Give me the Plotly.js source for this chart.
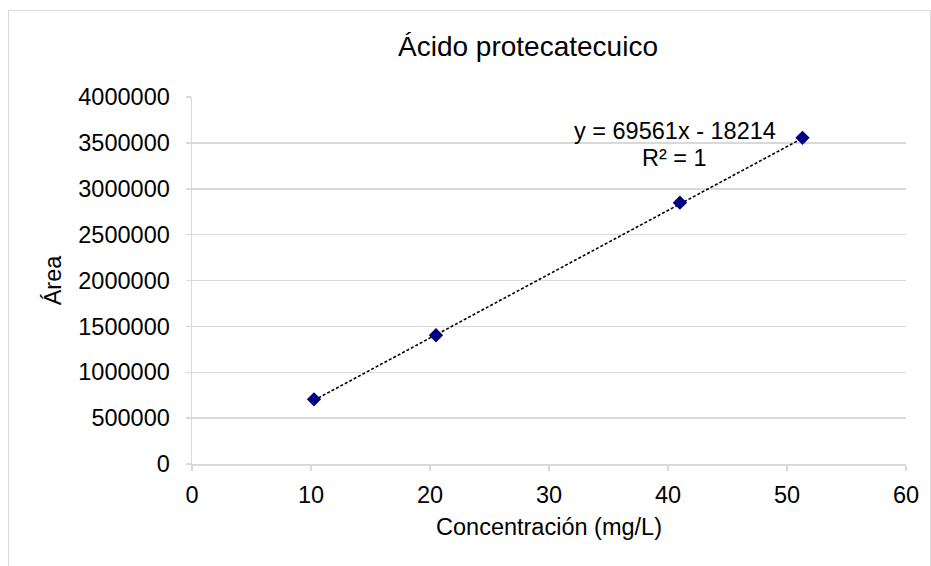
<!DOCTYPE html>
<html>
<head>
<meta charset="utf-8">
<script src="https://cdn.plot.ly/plotly-3.0.1.min.js"></script>
<style>
  html, body { margin: 0; padding: 0; background: #fff; }
  #chart { position: absolute; left: 0; top: 0; width: 931px; height: 566px; }
  #frame { position: absolute; left: 8px; top: 10px; width: 921px; height: 570px;
           border: 1px solid #d9d9d9; pointer-events: none; }
</style>
</head>
<body>
<div id="chart"></div>
<div id="frame"></div>
<script>
// Data
const concentration = [10.25, 20.5, 41.0, 51.3];          // mg/L
const area = [705000, 1403000, 2848000, 3555000];
// Trendline as reported on the chart: y = 69561x - 18214, R² = 1
const slope = 69561;
const intercept = -18214;
const equationText = "y = 69561x - 18214";
const r2Text = "R² = 1";

const xMin = Math.min(...concentration), xMax = Math.max(...concentration);
const trendX = [xMin, xMax];
const trendY = trendX.map(x => slope * x + intercept);

const FONT = "Liberation Sans, Arial, sans-serif";
const GRID = "#d9d9d9";

const traces = [
  {
    x: trendX, y: trendY, type: "scatter", mode: "lines",
    line: { color: "#000000", width: 1.6, dash: "3px,2px" },
    hoverinfo: "skip", showlegend: false
  },
  {
    x: concentration, y: area, type: "scatter", mode: "markers",
    marker: { symbol: "diamond", size: 11, color: "#000080",
              line: { color: "#000080", width: 0 } },
    showlegend: false
  }
];

const layout = {
  width: 931, height: 566,
  margin: { l: 192, r: 25, t: 97, b: 102 },
  paper_bgcolor: "#ffffff", plot_bgcolor: "#ffffff",
  font: { family: FONT, size: 23.5, color: "#000000" },
  title: {
    text: "Ácido protecatecuico",
    font: { family: FONT, size: 28, color: "#000000" },
    xref: "container", x: 528 / 931, xanchor: "center",
    yref: "container", y: 1 - 46 / 566, yanchor: "middle"
  },
  xaxis: {
    range: [0, 60], dtick: 10, tick0: 0,
    showgrid: false, zeroline: false,
    showline: true, linecolor: GRID, linewidth: 1.5,
    ticks: "outside", ticklen: 5, tickcolor: GRID, tickwidth: 1.5,
    ticklabelstandoff: 4,
    tickfont: { family: FONT, size: 23.5, color: "#000000" },
    title: { text: "Concentración (mg/L)", standoff: 12,
             font: { family: FONT, size: 23.5, color: "#000000" } },
    automargin: false, fixedrange: true
  },
  yaxis: {
    range: [0, 4000000], dtick: 500000, tick0: 0, tickformat: "d",
    showgrid: true, gridcolor: GRID, gridwidth: 1.5,
    zeroline: false,
    showline: true, linecolor: GRID, linewidth: 1.5,
    ticks: "outside", ticklen: 5, tickcolor: GRID, tickwidth: 1.5,
    ticklabelstandoff: 11,
    tickfont: { family: FONT, size: 23.5, color: "#000000" },
    title: { text: "Área", standoff: 10,
             font: { family: FONT, size: 23.5, color: "#000000" } },
    automargin: false, fixedrange: true
  },
  annotations: [
    { xref: "paper", yref: "paper", x: (674.5 - 192) / 714, y: (464 - 131) / 367,
      xanchor: "center", yanchor: "middle", showarrow: false,
      text: equationText, font: { family: FONT, size: 23.5, color: "#000000" } },
    { xref: "paper", yref: "paper", x: (674.5 - 192) / 714, y: (464 - 158) / 367,
      xanchor: "center", yanchor: "middle", showarrow: false,
      text: r2Text, font: { family: FONT, size: 23.5, color: "#000000" } }
  ]
};

Plotly.newPlot("chart", traces, layout, { staticPlot: true, displayModeBar: false });
</script>
</body>
</html>
